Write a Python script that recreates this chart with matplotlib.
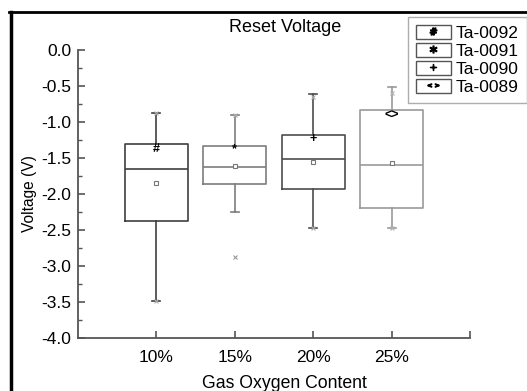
import matplotlib
matplotlib.use("Agg")
import matplotlib.pyplot as plt
import numpy as np
from matplotlib.lines import Line2D
from matplotlib.patches import Patch
from matplotlib.legend_handler import HandlerTuple

plt.rcParams['font.family'] = ['Liberation Sans', 'DejaVu Sans']

# Werte
categories = ['10%', '15%', '20%', '25%']
whis_hi = [-0.87, -0.90, -0.61, -0.52]
q3 = [-1.30, -1.33, -1.18, -0.84]
medians = [-1.65, -1.63, -1.51, -1.60]
q1 = [-2.37, -1.86, -1.93, -2.20]
whis_lo = [-3.48, -2.25, -2.47, -2.47]
means = [-1.85, -1.61, -1.56, -1.57]
outliers = [[], [-2.88], [], []]
max_marks = [-0.87, -0.90, -0.65, -0.60]
min_marks = [-3.48, np.nan, -2.47, -2.47]
samples = ['Ta-0092', 'Ta-0091', 'Ta-0090', 'Ta-0089']
symbols = ['#', '*', '+', '<>']
symbol_y = [-1.38, -1.38, -1.24, -0.92]

box_colors = ['#3f3f3f', '#7d7d7d', '#4d4d4d', '#9a9a9a']

fig = plt.figure(figsize=(5.27, 3.91), dpi=100)
ax = fig.add_axes([78/527, 1 - 338/391, (470 - 78)/527, (338 - 50)/391])

stats = []
for i in range(len(categories)):
    stats.append(dict(label=categories[i], whislo=whis_lo[i], q1=q1[i], med=medians[i],
                      q3=q3[i], whishi=whis_hi[i], mean=means[i], fliers=outliers[i]))

pos = np.arange(1, len(categories) + 1)
res = ax.bxp(stats, positions=pos, widths=0.8, capwidths=0.1, showmeans=True,
             patch_artist=False,
             meanprops=dict(marker='s', markersize=3, markerfacecolor='white',
                            markeredgecolor='#777777', markeredgewidth=0.8),
             flierprops=dict(marker='x', markersize=3, markeredgecolor='#999999',
                             markeredgewidth=0.8))

for i, c in enumerate(box_colors):
    res['boxes'][i].set_color(c)
    res['boxes'][i].set_linewidth(1.2)
    res['medians'][i].set_color(c)
    res['medians'][i].set_linewidth(1.2)
    for art in res['whiskers'][2*i:2*i+2] + res['caps'][2*i:2*i+2]:
        art.set_color(c)
        art.set_linewidth(1.2)

ax.plot(pos, max_marks, ls='', marker='x', ms=3.5, mec='#b0b0b0', mew=0.8)
ax.plot(pos, min_marks, ls='', marker='x', ms=3.5, mec='#b0b0b0', mew=0.8)

for p, s, y in zip(pos, symbols, symbol_y):
    ax.text(p, y, s, ha='center', va='center', fontsize=9, fontweight='bold', color='black')

ax.set_xlim(0, 5)
ax.set_ylim(-4, 0)
ax.set_xticks([1, 2, 3, 4, 5])
ax.set_xticklabels(categories + [''])
ax.set_yticks(np.arange(-4, 0.01, 0.5))
ax.set_yticklabels([f'{v:.1f}' if v < 0 else '0.0' for v in np.arange(-4, 0.01, 0.5)])
ax.set_yticks(np.arange(-3.75, 0, 0.5), minor=True)
ax.tick_params(axis='both', which='major', direction='in', length=5, width=1.2,
               color='#555555', labelsize=12.5)
ax.tick_params(axis='y', which='minor', direction='in', length=3, width=1.0, color='#555555')
ax.tick_params(axis='y', pad=5)
ax.tick_params(axis='x', pad=9)
for sp in ['top', 'right']:
    ax.spines[sp].set_visible(False)
for sp in ['left', 'bottom']:
    ax.spines[sp].set_color('#555555')
    ax.spines[sp].set_linewidth(1.3)

ax.set_ylabel('Voltage (V)', fontsize=11.2, labelpad=3)
fig.text(284/527, 1 - 384/391, 'Gas Oxygen Content', ha='center', va='center', fontsize=12.7)
fig.text(285/527, 1 - 28/391, 'Reset Voltage', ha='center', va='center', fontsize=13)

handles = []
for s in symbols:
    mk = '$' + s.replace('#', r'\#') + '$'
    handles.append((Patch(facecolor='white', edgecolor='#555555', linewidth=1.0),
                    Line2D([], [], ls='', marker=mk, color='black',
                           markersize=5 if s != '<>' else 8)))
leg = fig.legend(handles, samples, loc='upper left',
                 bbox_to_anchor=(408/527, 1 - 17/391), bbox_transform=fig.transFigure,
                 handler_map={tuple: HandlerTuple(ndivide=1, pad=0)},
                 fontsize=12.5, frameon=True, fancybox=False, edgecolor='#999999',
                 handlelength=2.0, handleheight=0.85, labelspacing=0.12,
                 handletextpad=0.3, borderpad=0.45, borderaxespad=0)
leg.get_frame().set_linewidth(1.0)

# outer frame
fig.add_artist(Line2D([9/527, 1], [1 - 12/391, 1 - 12/391], transform=fig.transFigure,
                      color='black', lw=2.0))
fig.add_artist(Line2D([10.5/527, 10.5/527], [0, 1 - 12/391], transform=fig.transFigure,
                      color='black', lw=2.5))

fig.savefig('out.png', dpi=100)
